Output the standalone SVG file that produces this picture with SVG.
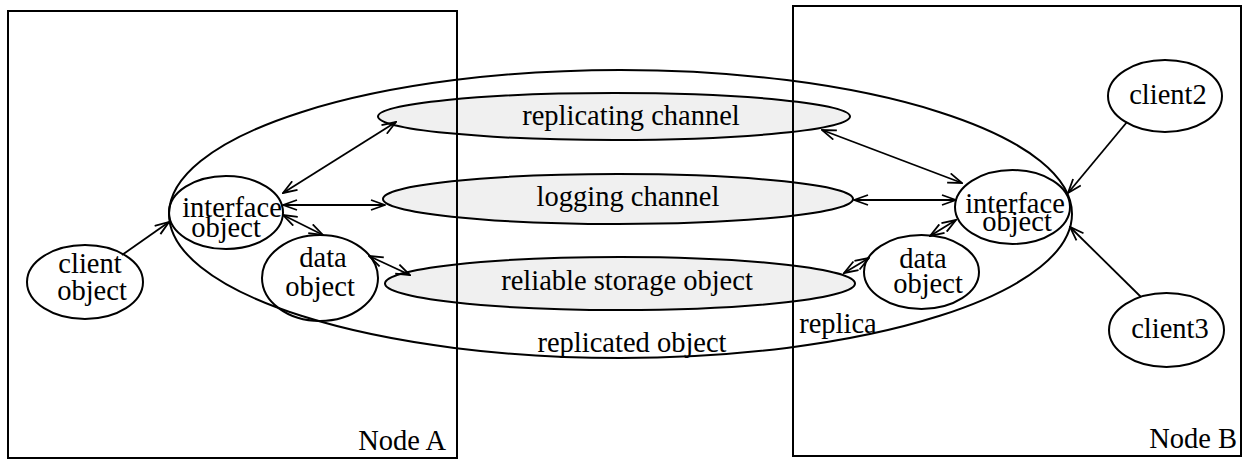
<svg xmlns="http://www.w3.org/2000/svg" width="1243" height="459" viewBox="0 0 1243 459" font-family="'Liberation Serif', 'Times New Roman', serif" font-size="28">
<style>
  .nd { fill: none; stroke: #000; stroke-width: 2; }
  .ch { fill: #f0f0f0; stroke: #000; stroke-width: 2; }
  .box { fill: none; stroke: #000; stroke-width: 2; }
  .cn { stroke: #000; stroke-width: 1.8; fill: none; marker-end: url(#ah); }
  .bi { marker-start: url(#ah); }
  .t { font-family: 'Liberation Serif', 'Times New Roman', serif; font-size: 28.5px; fill: #000; text-anchor: middle; }
  .end { text-anchor: end; }
</style>
<defs>
  <marker id="ah" viewBox="0 0 16 12" refX="15" refY="6" markerWidth="16" markerHeight="12" markerUnits="userSpaceOnUse" orient="auto-start-reverse">
    <path d="M1,1 L15,6 L1,11" fill="none" stroke="#000" stroke-width="1.8"/>
  </marker>
</defs>

<g id="replicated-object">
  <ellipse class="nd" cx="620.5" cy="214" rx="451.5" ry="144"/>
  <text class="t" x="632" y="352">replicated object</text>
</g>
<g id="replicating-channel">
  <ellipse class="ch" cx="614" cy="116.5" rx="236" ry="23.5"/>
  <text class="t" x="631" y="125">replicating channel</text>
</g>
<g id="logging-channel">
  <ellipse class="ch" cx="618" cy="199" rx="235" ry="25"/>
  <text class="t" x="628" y="206">logging channel</text>
</g>
<g id="reliable-storage">
  <ellipse class="ch" cx="620" cy="283.5" rx="235" ry="26.5"/>
  <text class="t" x="627" y="290">reliable storage object</text>
</g>

<g id="node-a">
  <rect class="box" x="8" y="11" width="449" height="447"/>
  <text class="t end" x="446" y="450">Node A</text>
</g>
<g id="node-b">
  <rect class="box" x="793" y="6" width="448" height="450"/>
  <text class="t end" x="1237" y="448">Node B</text>
</g>
<g id="replica-label">
  <text class="t" x="838" y="333">replica</text>
</g>

<g id="client-object">
  <ellipse class="nd" cx="85" cy="282" rx="58" ry="37"/>
  <text class="t" x="90" y="273">client</text>
  <text class="t" x="92" y="300">object</text>
</g>
<g id="interface-a">
  <ellipse class="nd" cx="226" cy="212.5" rx="57" ry="36.5"/>
  <text class="t" x="232" y="217">interface</text>
  <text class="t" x="226" y="237">object</text>
</g>
<g id="data-a">
  <ellipse class="nd" cx="320" cy="278" rx="58" ry="43"/>
  <text class="t" x="323" y="267">data</text>
  <text class="t" x="320" y="296">object</text>
</g>
<g id="interface-b">
  <ellipse class="nd" cx="1012.5" cy="207" rx="57.5" ry="37"/>
  <text class="t" x="1015" y="213">interface</text>
  <text class="t" x="1017" y="231">object</text>
</g>
<g id="data-b">
  <ellipse class="nd" cx="921.5" cy="272" rx="57.5" ry="37"/>
  <text class="t" x="923" y="268">data</text>
  <text class="t" x="928" y="293">object</text>
</g>
<g id="client2">
  <ellipse class="nd" cx="1165" cy="96" rx="57" ry="36"/>
  <text class="t" x="1168" y="104">client2</text>
</g>
<g id="client3">
  <ellipse class="nd" cx="1166.5" cy="330" rx="57.5" ry="37"/>
  <text class="t" x="1170" y="338">client3</text>
</g>

<g id="connectors">
  <line class="cn" x1="122" y1="255" x2="169" y2="222"/>
  <line class="cn bi" x1="283" y1="193" x2="396" y2="122"/>
  <line class="cn bi" x1="283" y1="205" x2="385" y2="205"/>
  <line class="cn bi" x1="283" y1="215" x2="323" y2="235"/>
  <line class="cn bi" x1="369" y1="256" x2="410" y2="275"/>
  <line class="cn bi" x1="822" y1="130" x2="962" y2="183"/>
  <line class="cn bi" x1="854" y1="200" x2="956" y2="200"/>
  <line class="cn bi" x1="930" y1="236" x2="956" y2="220"/>
  <line class="cn bi" x1="844" y1="273" x2="869" y2="258"/>
  <line class="cn" x1="1127" y1="122" x2="1068" y2="193"/>
  <line class="cn" x1="1141" y1="297" x2="1070" y2="227"/>
</g>
</svg>
